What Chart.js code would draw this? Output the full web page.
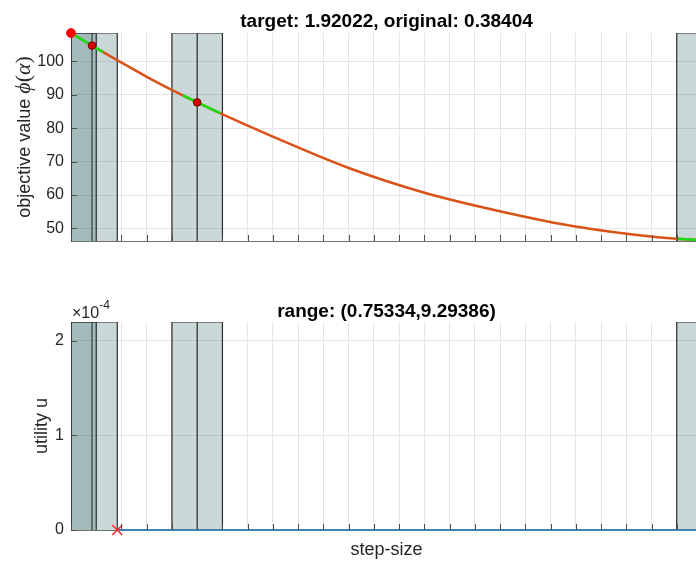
<!DOCTYPE html>
<html>
<head>
<meta charset="utf-8">
<script src="https://cdn.jsdelivr.net/npm/chart.js@4.4.1/dist/chart.umd.min.js"></script>
<style>
  html, body { margin: 0; padding: 0; background: #fff; overflow: hidden; width: 696px; height: 561px; }
  #wrap { position: relative; width: 696px; height: 561px; overflow: hidden; }
  canvas { position: absolute; left: 0; }
  #phiChart { top: 0; }
  #utilChart { top: 290px; }
</style>
</head>
<body>
<div id="wrap">
  <canvas id="phiChart" width="712" height="290"></canvas>
  <canvas id="utilChart" width="712" height="271"></canvas>
</div>
<script>
// ---- line-search samples: step-size alpha and objective phi(alpha) ----
const stepSizes    = [0, 0.0640, 0.38404, 1.92022];
const sampleValues = [108.45, 104.7, 87.7, 46.5];
const binHalfWidth = 0.076809;   // shaded bin on each side of a sample

// ---- objective along the search direction ----
const curveSteps  = [0, 0.064, 0.152, 0.232, 0.308, 0.384, 0.460, 0.616, 0.845, 1.076, 1.308, 1.540, 1.771, 1.843, 1.920];
const curveValues = [108.45, 104.7, 99.7, 95.3, 91.4, 87.7, 84.2, 77.4, 68.1, 60.7, 55.1, 50.5, 47.5, 46.9, 46.5];

// ---- local model pieces around the samples ----
const modelSteps1  = [0, 0.064, 0.0974];
const modelValues1 = [108.45, 104.7, 102.7];
const modelSteps2  = [0.3415, 0.384, 0.4535];
const modelValues2 = [89.8, 87.7, 84.5];
const modelSteps3  = [1.8434, 1.92022];
const modelValues3 = [46.9, 46.5];

// ---- utility ----
const utilitySteps  = [0.1408, 1.92022];
const utilityValues = [0, 0];
const candidateStep = [0.1408];
const candidateUtil = [0];

// ---- axes ----
const stepRange      = [0, 1.92022];
const stepGridCount  = 25;
const phiRange       = [46.25, 108.47];
const phiTicks       = [50, 60, 70, 80, 90, 100];
const phiTickLabels  = ['50', '60', '70', '80', '90', '100'];
const utilRange      = [0, 2.2e-4];
const utilTicks      = [0, 1e-4, 2e-4];
const utilTickLabels = ['0', '1', '2'];

const topTitle    = 'target: 1.92022, original: 0.38404';
const bottomTitle = 'range: (0.75334,9.29386)';

const SANS  = '"Liberation Sans", Arial, Helvetica, sans-serif';
const SERIF = '"Liberation Serif", "DejaVu Serif", serif';
const TEXT  = '#262626';
const GRID  = '#e5e5e5';

const toXY = (xs, ys) => xs.map((x, i) => ({ x, y: ys[i] }));

// two adjacent bins around each sample, spanning the whole y range
function binDatasets(lo, hi) {
  return stepSizes.map(p => ({
    type: 'line',
    data: [
      { x: p - binHalfWidth, y: lo }, { x: p - binHalfWidth, y: hi },
      { x: p, y: hi }, { x: p, y: lo }, { x: p, y: hi },
      { x: p + binHalfWidth, y: hi }, { x: p + binHalfWidth, y: lo }
    ],
    borderColor: '#2b2b2b',
    borderWidth: 1.2,
    backgroundColor: 'rgba(60,112,112,0.27)',
    fill: 'start',
    pointRadius: 0,
    tension: 0,
    order: 10
  }));
}

function xScale() {
  return {
    type: 'linear',
    min: stepRange[0],
    max: stepRange[1],
    afterBuildTicks(s) {
      const step = (stepRange[1] - stepRange[0]) / stepGridCount;
      s.ticks = Array.from({ length: stepGridCount + 1 }, (_, i) => ({ value: stepRange[0] + i * step }));
    },
    ticks: { display: false },
    grid: { color: GRID, lineWidth: 1, drawTicks: false },
    border: { display: true, color: '#707070', width: 1 },
    afterFit(s) { s.height = 0; }
  };
}

function yScale(range, ticks, labels) {
  return {
    type: 'linear',
    min: range[0],
    max: range[1],
    afterBuildTicks(s) { s.ticks = ticks.map(v => ({ value: v })); },
    ticks: {
      color: TEXT,
      font: { family: SANS, size: 16 },
      padding: 7,
      callback: (v, i) => labels[i]
    },
    grid: { color: GRID, lineWidth: 1, drawTicks: false },
    border: { display: true, color: '#4d4d4d', width: 1 },
    afterFit(s) { s.width = 71; }
  };
}

// inward tick marks, titles and axis labels
const decor = {
  id: 'decor',
  afterDatasetsDraw(chart) {
    const { ctx, chartArea: a, scales: { x, y } } = chart;
    ctx.save();
    ctx.strokeStyle = '#4d4d4d';
    ctx.lineWidth = 1;
    ctx.beginPath();
    x.ticks.forEach(t => {
      const px = Math.round(x.getPixelForValue(t.value)) + 0.5;
      ctx.moveTo(px, a.bottom);
      ctx.lineTo(px, a.bottom - 6);
    });
    y.ticks.forEach(t => {
      const py = Math.round(y.getPixelForValue(t.value)) + 0.5;
      ctx.moveTo(a.left, py);
      ctx.lineTo(a.left + 6, py);
    });
    ctx.stroke();
    ctx.restore();
  },
  afterDraw(chart, args, opts) {
    const { ctx, chartArea: a } = chart;
    const cx = (a.left + a.right) / 2;
    ctx.save();
    ctx.fillStyle = '#000';
    ctx.font = 'bold 19px ' + SANS;
    ctx.textAlign = 'center';
    ctx.textBaseline = 'alphabetic';
    ctx.fillText(opts.title, cx, opts.titleY);

    // y-axis label, rotated
    ctx.fillStyle = TEXT;
    ctx.save();
    ctx.translate(opts.ylabelX, (a.top + a.bottom) / 2);
    ctx.rotate(-Math.PI / 2);
    ctx.textAlign = 'left';
    const parts = opts.ylabel;
    let total = 0;
    parts.forEach(p => { ctx.font = p.font; total += ctx.measureText(p.text).width; });
    let px = -total / 2;
    parts.forEach(p => { ctx.font = p.font; ctx.fillText(p.text, px, 0); px += ctx.measureText(p.text).width; });
    ctx.restore();

    if (opts.xlabel) {
      ctx.font = '18px ' + SANS;
      ctx.textAlign = 'center';
      ctx.fillText(opts.xlabel, cx, opts.xlabelY);
    }
    if (opts.exponent) {
      ctx.textAlign = 'left';
      ctx.font = '16px ' + SANS;
      ctx.fillText('\u00d710', a.left + 1, a.top - 4);
      const w = ctx.measureText('\u00d710').width;
      ctx.font = '12px ' + SANS;
      ctx.fillText(opts.exponent, a.left + 1 + w, a.top - 13);
    }
    ctx.restore();
  }
};

const baseOpts = {
  responsive: false,
  animation: false,
  devicePixelRatio: 1,
  events: []
};

// ---- upper panel: objective ----
new Chart(document.getElementById('phiChart'), {
  type: 'line',
  data: {
    datasets: [
      ...binDatasets(phiRange[0], phiRange[1]),
      {
        data: toXY(curveSteps, curveValues),
        borderColor: '#D95319', borderWidth: 2.5,
        pointRadius: 0, cubicInterpolationMode: 'monotone', fill: false, order: 5
      },
      ...[[modelSteps1, modelValues1], [modelSteps2, modelValues2], [modelSteps3, modelValues3]].map(([s, v]) => ({
        data: toXY(s, v),
        borderColor: '#14e014', borderWidth: 2.5,
        pointRadius: 0, tension: 0, fill: false, order: 3
      })),
      {
        data: toXY(stepSizes, sampleValues),
        showLine: false,
        pointRadius: [4.5, 3.8, 3.8, 3.8],
        pointBackgroundColor: ['#ff0000', '#d80000', '#d80000', '#d80000'],
        pointBorderColor: ['#ff1010', '#6a0000', '#6a0000', '#6a0000'],
        pointBorderWidth: 1,
        clip: false,
        order: 1
      }
    ]
  },
  options: {
    ...baseOpts,
    layout: { padding: { left: 0, right: 10, top: 33, bottom: 49 } },
    scales: { x: xScale(), y: yScale(phiRange, phiTicks, phiTickLabels) },
    plugins: {
      legend: { display: false },
      tooltip: { enabled: false },
      decor: {
        title: topTitle,
        titleY: 26.5,
        ylabelX: 29.5,
        ylabel: [
          { text: 'objective value ', font: '18px ' + SANS },
          { text: '\u03d5', font: 'italic 22px ' + SERIF },
          { text: '(', font: '22px ' + SERIF },
          { text: '\u03b1', font: 'italic 22px ' + SERIF },
          { text: ')', font: '22px ' + SERIF }
        ]
      }
    }
  },
  plugins: [decor]
});

// ---- lower panel: utility ----
new Chart(document.getElementById('utilChart'), {
  type: 'line',
  data: {
    datasets: [
      ...binDatasets(utilRange[0], utilRange[1]),
      {
        data: toXY(utilitySteps, utilityValues),
        borderColor: '#3f83b5', borderWidth: 2,
        pointRadius: 0, fill: false, clip: false, order: 4
      },
      {
        data: toXY(candidateStep, candidateUtil),
        showLine: false,
        pointStyle: 'crossRot',
        pointRadius: 7,
        pointBorderColor: '#ff2a2a',
        pointBorderWidth: 1.5,
        clip: false,
        order: 1
      }
    ]
  },
  options: {
    ...baseOpts,
    layout: { padding: { left: 0, right: 10, top: 32, bottom: 31 } },
    scales: { x: xScale(), y: yScale(utilRange, utilTicks, utilTickLabels) },
    plugins: {
      legend: { display: false },
      tooltip: { enabled: false },
      decor: {
        title: bottomTitle,
        titleY: 26.5,
        ylabelX: 46.5,
        ylabel: [{ text: 'utility u', font: '18px ' + SANS }],
        xlabel: 'step-size',
        xlabelY: 264.5,
        exponent: '-4'
      }
    }
  },
  plugins: [decor]
});
</script>
</body>
</html>
